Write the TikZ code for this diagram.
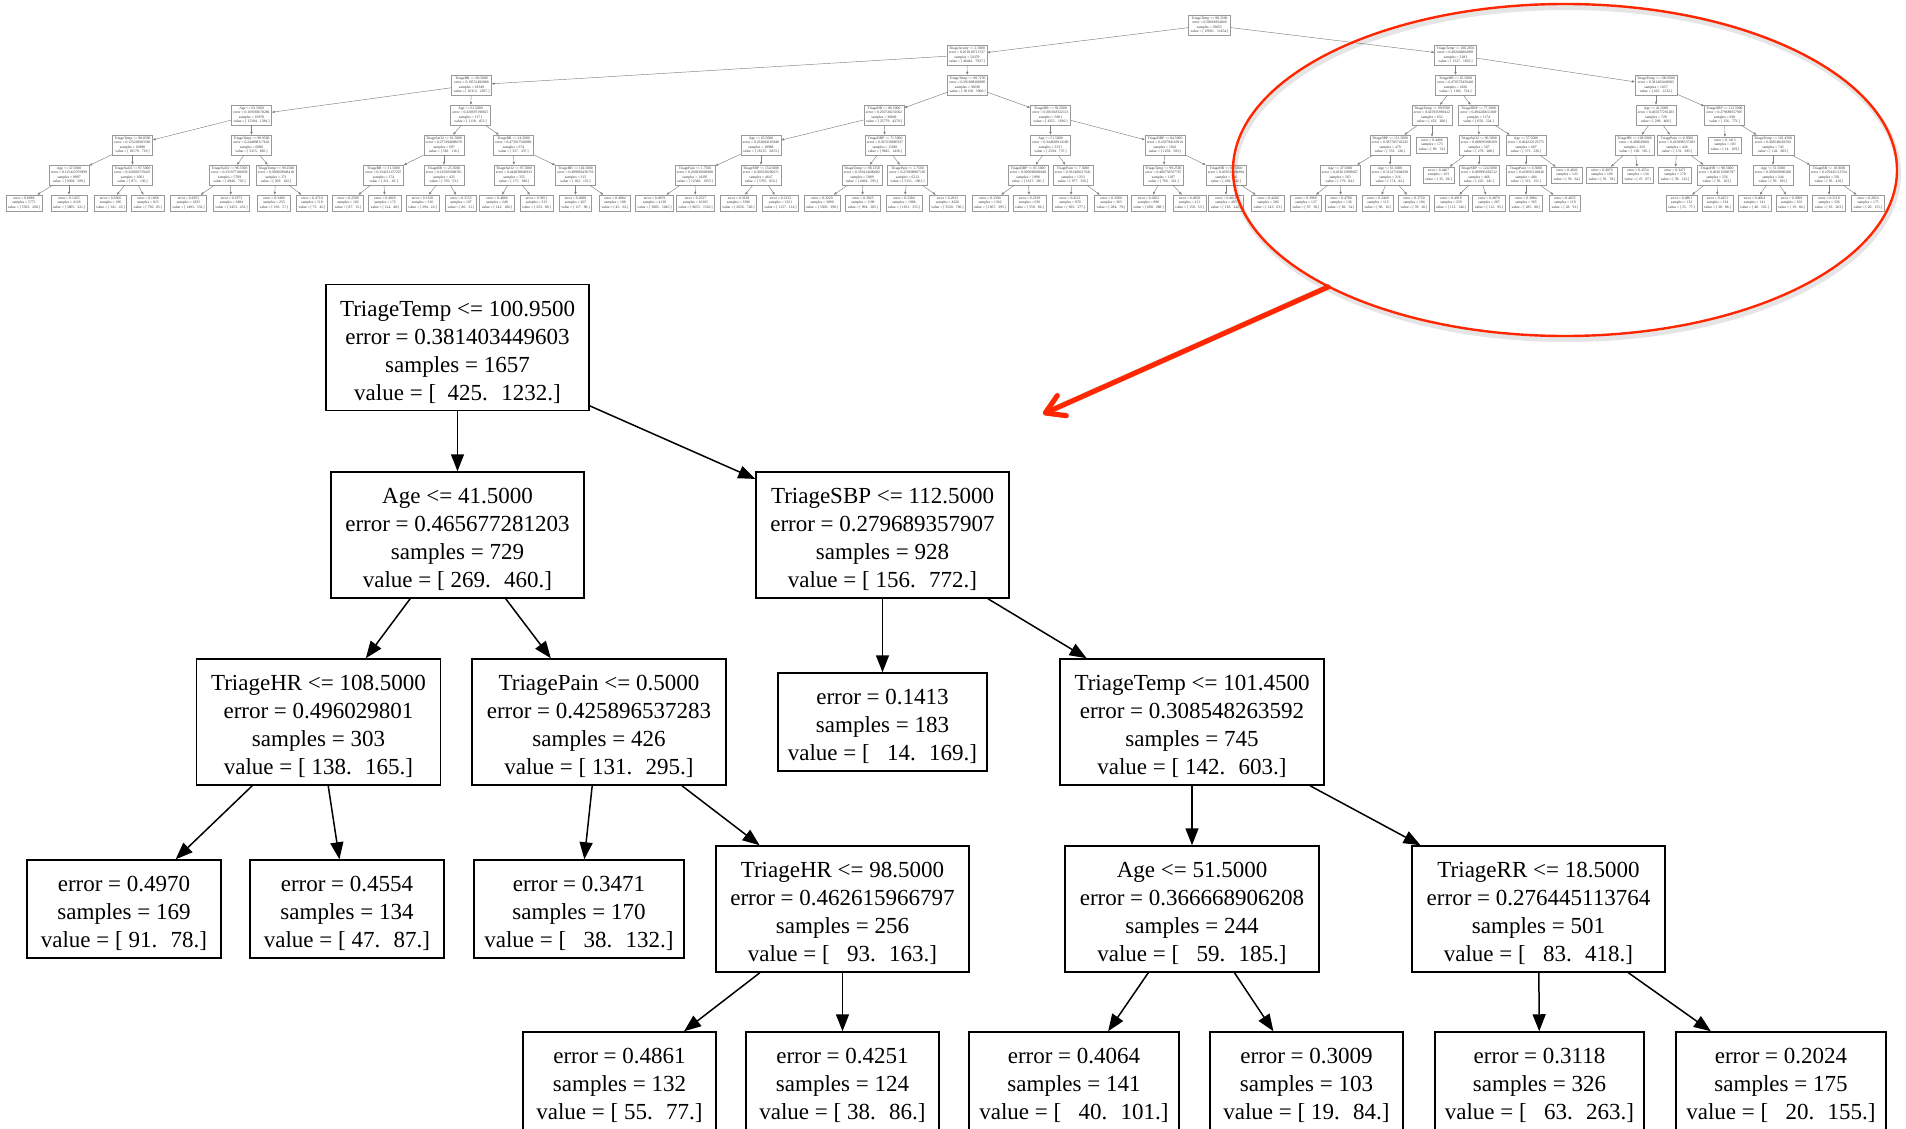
\documentclass[tikz,border=0pt]{standalone}
\usepackage{fontspec}
\setmainfont{Liberation Serif}
\usetikzlibrary{arrows.meta}
\definecolor{markred}{RGB}{255,38,0}
\tikzset{
  bignode/.style={draw=black, line width=1.5pt, fill=white, align=center, inner sep=0pt,
    font=\fontsize{23}{28}\selectfont, minimum height=126pt},
  bigleaf/.style={bignode, minimum height=98pt},
  bigedge/.style={line width=1.5pt, -{Triangle[length=17pt,width=13pt]}},
  tinynode/.style={draw=black!40, line width=0.6pt, fill=white, align=center, inner xsep=2pt,
    inner ysep=0pt, font=\fontsize{3.7}{4.5}\selectfont, text=black!80, minimum height=20pt},
  tinyleaf/.style={tinynode, minimum height=16pt},
  tinyedge/.style={draw=black!50, line width=0.45pt, -{Triangle[length=2.8pt,width=2.2pt]}},
}
% small overview boxes: name, position, four (or three) text lines
\newcommand\mkint[6]{\node[tinynode] (#1) at (#2) {#3\\#4\\#5\\#6};}
\newcommand\mkleaf[5]{\node[tinyleaf] (#1) at (#2) {#3\\#4\\#5};}
% taller first line, so the text block sits a little low in its box
\newcommand\tup{\rule{0pt}{25pt}}

\begin{document}
\begin{tikzpicture}[x=1pt,y=-1pt]
\useasboundingbox (0,0) rectangle (1906,1129);
\fill[white] (0,0) rectangle (1906,1129);

% ---------------- overview of the full tree ----------------
\mkint{R}{1209.5,25}{TriageTemp <= 98.3500}{error = 0.50018854849}{samples = 59055}{value = [ 47601.~ 11454.]}
\mkint{A}{967,55}{TriageAcuity <= 2.5000}{error = 0.261018713727}{samples = 54379}{value = [ 46442.~ 7937.]}
\mkint{B}{1455.5,55}{TriageTemp <= 100.2650}{error = 0.492404864993}{samples = 3183}{value = [ 1527.~ 1656.]}
\mkint{AL}{471.5,85}{TriageRR <= 20.5000}{error = 0.19551492888}{samples = 18349}{value = [ 16312.~ 2037.]}
\mkint{AR}{967.5,85}{TriageTemp <= 98.7250}{error = 0.291808100095}{samples = 36030}{value = [ 30130.~ 5900.]}
\mkint{BL}{1455.5,85}{TriageHR <= 65.5000}{error = 0.470573459426}{samples = 1826}{value = [ 1102.~ 724.]}
\mkint{BR}{1656,85}{TriageTemp <= 100.9500}{error = 0.381403449603}{samples = 1657}{value = [ 425.~ 1232.]}

\mkint{a63}{251.5,115}{Age <= 63.5000}{error = 0.169383678286}{samples = 16978}{value = [ 15394.~ 1584.]}
\mkint{a61}{470.5,115}{Age <= 61.5000}{error = 0.430697190615}{samples = 1371}{value = [ 1118.~ 453.]}
\mkint{rr86}{884,115}{TriageHR <= 86.5000}{error = 0.250720231062}{samples = 30049}{value = [ 25779.~ 4270.]}
\mkint{hr92}{1050.5,115}{TriageHR <= 92.5000}{error = 0.381018322113}{samples = 5981}{value = [ 4351.~ 1630.]}
\mkint{t99}{1432,115}{TriageTemp <= 99.9500}{error = 0.425935969412}{samples = 652}{value = [ 452.~ 200.]}
\mkint{dbp77}{1478.5,115}{TriageDBP <= 77.5000}{error = 0.494240651049}{samples = 1174}{value = [ 650.~ 524.]}
\mkint{sAge41}{1656,115}{Age <= 41.5000}{error = 0.465677281203}{samples = 729}{value = [ 269.~ 460.]}
\mkint{sSbp}{1724.5,115}{TriageSBP <= 112.5000}{error = 0.279689357907}{samples = 928}{value = [ 156.~ 772.]}

\mkint{t9885}{132.5,145}{TriageTemp <= 98.8500}{error = 0.125249303569}{samples = 10898}{value = [ 10179.~ 719.]}
\mkint{t9895}{251.5,145}{TriageTemp <= 98.9500}{error = 0.244898117642}{samples = 6080}{value = [ 5215.~ 865.]}
\mkint{sa915}{444,145}{TriageSaO2 <= 91.5000}{error = 0.277494808670}{samples = 697}{value = [ 581.~ 116.]}
\mkint{rr245}{513.5,145}{TriageRR <= 24.5000}{error = 0.473917568082}{samples = 674}{value = [ 337.~ 337.]}
\mkint{age655}{761,145}{Age <= 65.5000}{error = 0.232084165848}{samples = 18968}{value = [ 16135.~ 2833.]}
\mkint{dbp715}{885,145}{TriageDBP <= 71.5000}{error = 0.307250885937}{samples = 11081}{value = [ 9645.~ 1436.]}
\mkint{age515}{1050.5,145}{Age <= 51.5000}{error = 0.344602914160}{samples = 3331}{value = [ 2594.~ 737.]}
\mkint{dbp845}{1165,145}{TriageDBP <= 84.5000}{error = 0.432794116914}{samples = 1841}{value = [ 1258.~ 583.]}
\mkint{sbp1515}{1390,145}{TriageSBP <= 151.5000}{error = 0.387785743222}{samples = 479}{value = [ 353.~ 126.]}
\mkleaf{leaf4a}{1432,145}{error = 0.4406}{samples = 173}{value = [ 99.~ 74.]}
\mkint{sa965}{1479,145}{TriageSaO2 <= 96.5000}{error = 0.498695906269}{samples = 567}{value = [ 279.~ 288.]}
\mkint{age575}{1526,145}{Age <= 57.5000}{error = 0.464232125575}{samples = 607}{value = [ 371.~ 236.]}
\mkint{sHr108}{1634.5,145}{TriageHR <= 108.5000}{error = 0.496029801}{samples = 303}{value = [ 138.~ 165.]}
\mkint{sPain}{1677,145}{TriagePain <= 0.5000}{error = 0.425896537283}{samples = 426}{value = [ 131.~ 295.]}
\mkleaf{sL1413}{1725,145}{error = 0.1413}{samples = 183}{value = [ 14.~ 169.]}
\mkint{sTt101}{1773,145}{TriageTemp <= 101.4500}{error = 0.308548263592}{samples = 745}{value = [ 142.~ 603.]}

\mkint{a475}{69,175}{Age <= 47.5000}{error = 0.115422376999}{samples = 9897}{value = [ 9308.~ 589.]}
\mkint{sa975}{132.5,175}{TriageSaO2 <= 97.5000}{error = 0.226003759425}{samples = 1001}{value = [ 871.~ 130.]}
\mkint{sa9655}{229.5,175}{TriageSaO2 <= 96.5500}{error = 0.231977106839}{samples = 5709}{value = [ 4946.~ 763.]}
\mkint{t9925}{276,175}{TriageTemp <= 99.2500}{error = 0.396669948418}{samples = 371}{value = [ 269.~ 102.]}
\mkint{rr315}{383.5,175}{TriageRR <= 31.5000}{error = 0.334212157227}{samples = 274}{value = [ 211.~ 63.]}
\mkint{rr255}{444,175}{TriageRR <= 25.5000}{error = 0.219305068761}{samples = 423}{value = [ 370.~ 53.]}
\mkint{sa975b}{514,175}{TriageSaO2 <= 97.5000}{error = 0.444830606913}{samples = 355}{value = [ 175.~ 180.]}
\mkint{hr1025}{575.5,175}{TriageHR <= 102.5000}{error = 0.499963436719}{samples = 315}{value = [ 162.~ 153.]}
\mkint{pain175}{695,175}{TriagePain <= 1.7500}{error = 0.236036068908}{samples = 14295}{value = [ 12340.~ 1955.]}
\mkint{sbp1545}{761,175}{TriageSBP <= 154.5000}{error = 0.300320206671}{samples = 4647}{value = [ 3795.~ 852.]}
\mkint{t98135}{862,175}{TriageTemp <= 98.1350}{error = 0.339414400002}{samples = 5089}{value = [ 4494.~ 595.]}
\mkint{pain175b}{907.5,175}{TriagePain <= 1.7500}{error = 0.276699967105}{samples = 6212}{value = [ 5151.~ 1061.]}
\mkint{dbp815}{1028,175}{TriageDBP <= 81.5000}{error = 0.306698902849}{samples = 1998}{value = [ 1617.~ 381.]}
\mkint{pain75}{1073,175}{TriagePain <= 7.5000}{error = 0.391468217641}{samples = 1333}{value = [ 977.~ 356.]}
\mkint{t9925b}{1163.5,175}{TriageTemp <= 99.2500}{error = 0.406758767767}{samples = 1107}{value = [ 766.~ 341.]}
\mkint{hr885}{1226,175}{TriageHR <= 88.5000}{error = 0.459521094894}{samples = 734}{value = [ 492.~ 242.]}
\mkint{age475b}{1340,175}{Age <= 47.5000}{error = 0.432613969667}{samples = 263}{value = [ 179.~ 84.]}
\mkint{age615b}{1390,175}{Age <= 61.5000}{error = 0.313271604938}{samples = 216}{value = [ 174.~ 42.]}
\mkleaf{leaf5a}{1438.5,175}{error = 0.4467}{samples = 101}{value = [ 35.~ 66.]}
\mkint{sbp1245}{1479,175}{TriageSBP <= 124.5000}{error = 0.499991662512}{samples = 466}{value = [ 225.~ 241.]}
\mkint{pain05b}{1526,175}{TriagePain <= 0.5000}{error = 0.419691102846}{samples = 484}{value = [ 313.~ 151.]}
\mkleaf{leaf5b}{1567,175}{error = 0.4602}{samples = 123}{value = [ 59.~ 64.]}
\mkleaf{sL4970}{1602,175}{error = 0.4970}{samples = 169}{value = [ 91.~ 78.]}
\mkleaf{sL4554}{1638,175}{error = 0.4554}{samples = 134}{value = [ 47.~ 87.]}
\mkleaf{sL3471}{1675,175}{error = 0.3471}{samples = 170}{value = [ 38.~ 132.]}
\mkint{sHr98}{1717,175}{TriageHR <= 98.5000}{error = 0.462615966797}{samples = 256}{value = [ 93.~ 163.]}
\mkint{sAge51}{1773,175}{Age <= 51.5000}{error = 0.366668906208}{samples = 244}{value = [ 59.~ 185.]}
\mkint{sRr18}{1829,175}{TriageRR <= 18.5000}{error = 0.276445113764}{samples = 501}{value = [ 83.~ 418.]}

\mkleaf{lf1}{24,203}{error = 0.0886}{samples = 5771}{value = [ 5503.~ 268.]}
\mkleaf{lf2}{69,203}{error = 0.1435}{samples = 4126}{value = [ 3805.~ 321.]}
\mkleaf{lf3}{110.5,203}{error = 0.3666}{samples = 186}{value = [ 141.~ 45.]}
\mkleaf{lf4}{148,203}{error = 0.1868}{samples = 815}{value = [ 730.~ 85.]}
\mkleaf{lf5}{188.5,203}{error = 0.2955}{samples = 1825}{value = [ 1493.~ 332.]}
\mkleaf{lf6}{231.5,203}{error = 0.1973}{samples = 3884}{value = [ 3453.~ 431.]}
\mkleaf{lf7}{274,203}{error = 0.3400}{samples = 253}{value = [ 196.~ 57.]}
\mkleaf{lf8}{312,203}{error = 0.4710}{samples = 118}{value = [ 73.~ 45.]}
\mkleaf{lf9}{348,203}{error = 0.2589}{samples = 102}{value = [ 87.~ 15.]}
\mkleaf{lf10}{385,203}{error = 0.4026}{samples = 172}{value = [ 124.~ 48.]}
\mkleaf{lf11}{422.5,203}{error = 0.1320}{samples = 316}{value = [ 294.~ 22.]}
\mkleaf{lf12}{461,203}{error = 0.3155}{samples = 107}{value = [ 86.~ 21.]}
\mkleaf{lf13}{497,203}{error = 0.4866}{samples = 248}{value = [ 142.~ 106.]}
\mkleaf{lf14}{536.5,203}{error = 0.3951}{samples = 313}{value = [ 233.~ 80.]}
\mkleaf{lf15}{575.5,203}{error = 0.4688}{samples = 207}{value = [ 117.~ 90.]}
\mkleaf{lf16}{615,203}{error = 0.4884}{samples = 108}{value = [ 45.~ 63.]}
\mkleaf{lf17}{654.5,203}{error = 0.4959}{samples = 4130}{value = [ 3085.~ 1045.]}
\mkleaf{lf18}{695.5,203}{error = 0.2527}{samples = 10165}{value = [ 8655.~ 1510.]}
\mkleaf{lf19}{738.5,203}{error = 0.3238}{samples = 3396}{value = [ 2656.~ 740.]}
\mkleaf{lf20}{780.5,203}{error = 0.2132}{samples = 1251}{value = [ 1137.~ 114.]}
\mkleaf{lf21}{822,203}{error = 0.3229}{samples = 3890}{value = [ 3500.~ 390.]}
\mkleaf{lf22}{863,203}{error = 0.3925}{samples = 1199}{value = [ 994.~ 205.]}
\mkleaf{lf23}{904,203}{error = 0.2384}{samples = 1986}{value = [ 1631.~ 355.]}
\mkleaf{lf24}{947.5,203}{error = 0.2912}{samples = 4226}{value = [ 3520.~ 706.]}
\mkleaf{lf25}{990,203}{error = 0.3394}{samples = 1362}{value = [ 1067.~ 295.]}
\mkleaf{lf26}{1029.5,203}{error = 0.2339}{samples = 636}{value = [ 550.~ 86.]}
\mkleaf{lf27}{1070,203}{error = 0.4112}{samples = 970}{value = [ 693.~ 277.]}
\mkleaf{lf28}{1111,203}{error = 0.3200}{samples = 363}{value = [ 284.~ 79.]}
\mkleaf{lf29}{1148.5,203}{error = 0.4262}{samples = 896}{value = [ 608.~ 288.]}
\mkleaf{lf30}{1189.5,203}{error = 0.4950}{samples = 211}{value = [ 158.~ 53.]}
\mkleaf{lf31}{1226,203}{error = 0.4811}{samples = 405}{value = [ 163.~ 242.]}
\mkleaf{lf32}{1268,203}{error = 0.4246}{samples = 206}{value = [ 143.~ 63.]}
\mkleaf{lf33}{1306,203}{error = 0.3968}{samples = 127}{value = [ 97.~ 30.]}
\mkleaf{lf34}{1341,203}{error = 0.4780}{samples = 136}{value = [ 82.~ 54.]}
\mkleaf{lf35}{1378,203}{error = 0.2449}{samples = 112}{value = [ 96.~ 16.]}
\mkleaf{lf36}{1414,203}{error = 0.3750}{samples = 104}{value = [ 78.~ 26.]}
\mkleaf{lf37}{1451,203}{error = 0.4918}{samples = 259}{value = [ 113.~ 146.]}
\mkleaf{lf38}{1489,203}{error = 0.4879}{samples = 207}{value = [ 112.~ 95.]}
\mkleaf{lf39}{1526,203}{error = 0.3984}{samples = 365}{value = [ 285.~ 80.]}
\mkleaf{lf40}{1565,203}{error = 0.4635}{samples = 119}{value = [ 28.~ 91.]}
\mkleaf{sL4861}{1681.5,203}{error = 0.4861}{samples = 132}{value = [ 55.~ 77.]}
\mkleaf{sL4251}{1717.5,203}{error = 0.4251}{samples = 124}{value = [ 38.~ 86.]}
\mkleaf{sL4064}{1754.5,203}{error = 0.4064}{samples = 141}{value = [ 40.~ 101.]}
\mkleaf{sL3009}{1791.5,203}{error = 0.3009}{samples = 103}{value = [ 19.~ 84.]}
\mkleaf{sL3118}{1829,203}{error = 0.3118}{samples = 326}{value = [ 63.~ 263.]}
\mkleaf{sL2024}{1868,203}{error = 0.2024}{samples = 175}{value = [ 20.~ 155.]}

\foreach \p/\c in {R/A, R/B, A/AL, A/AR, B/BL, B/BR,
  AL/a63, AL/a61, AR/rr86, AR/hr92, BL/t99, BL/dbp77, BR/sAge41, BR/sSbp,
  a63/t9885, a63/t9895, a61/sa915, a61/rr245, rr86/age655, rr86/dbp715,
  hr92/age515, hr92/dbp845, t99/sbp1515, t99/leaf4a, dbp77/sa965, dbp77/age575,
  sAge41/sHr108, sAge41/sPain, sSbp/sL1413, sSbp/sTt101,
  t9885/a475, t9885/sa975, t9895/sa9655, t9895/t9925, sa915/rr315, sa915/rr255,
  rr245/sa975b, rr245/hr1025, age655/pain175, age655/sbp1545, dbp715/t98135,
  dbp715/pain175b, age515/dbp815, age515/pain75, dbp845/t9925b, dbp845/hr885,
  sbp1515/age475b, sbp1515/age615b, sa965/leaf5a, sa965/sbp1245,
  age575/pain05b, age575/leaf5b, sHr108/sL4970, sHr108/sL4554,
  sPain/sL3471, sPain/sHr98, sTt101/sAge51, sTt101/sRr18,
  a475/lf1, a475/lf2, sa975/lf3, sa975/lf4, sa9655/lf5, sa9655/lf6,
  t9925/lf7, t9925/lf8, rr315/lf9, rr315/lf10, rr255/lf11, rr255/lf12,
  sa975b/lf13, sa975b/lf14, hr1025/lf15, hr1025/lf16, pain175/lf17, pain175/lf18,
  sbp1545/lf19, sbp1545/lf20, t98135/lf21, t98135/lf22, pain175b/lf23, pain175b/lf24,
  dbp815/lf25, dbp815/lf26, pain75/lf27, pain75/lf28, t9925b/lf29, t9925b/lf30,
  hr885/lf31, hr885/lf32, age475b/lf33, age475b/lf34, age615b/lf35, age615b/lf36,
  sbp1245/lf37, sbp1245/lf38, pain05b/lf39, pain05b/lf40,
  sHr98/sL4861, sHr98/sL4251, sAge51/sL4064, sAge51/sL3009, sRr18/sL3118, sRr18/sL2024}
  \draw[tinyedge] (\p) -- (\c);

% ---------------- enlarged subtree ----------------
\node[bignode, minimum width=263pt] (root) at (457.5,347.5)
  {\tup TriageTemp <= 100.9500\\error = 0.381403449603\\samples = 1657\\value = [~ 425.~ 1232.]};
\node[bignode, minimum width=253pt] (age41) at (457.5,535)
  {\tup Age <= 41.5000\\error = 0.465677281203\\samples = 729\\value = [ 269.~ 460.]};
\node[bignode, minimum width=253pt] (sbp) at (882.5,535)
  {\tup TriageSBP <= 112.5000\\error = 0.279689357907\\samples = 928\\value = [ 156.~ 772.]};
\node[bignode, minimum width=244pt] (hr108) at (318.5,722)
  {\tup TriageHR <= 108.5000\\error = 0.496029801\\samples = 303\\value = [ 138.~ 165.]};
\node[bignode, minimum width=254pt] (pain05) at (599,722)
  {\tup TriagePain <= 0.5000\\error = 0.425896537283\\samples = 426\\value = [ 131.~ 295.]};
\node[bigleaf, minimum width=209pt] (l1413) at (882.5,722)
  {\tup error = 0.1413\\samples = 183\\value = [~~ 14.~ 169.]};
\node[bignode, minimum width=264pt] (tt101) at (1192,722)
  {\tup TriageTemp <= 101.4500\\error = 0.308548263592\\samples = 745\\value = [ 142.~ 603.]};
\node[bigleaf, minimum width=194pt] (l4970) at (124,909)
  {\tup error = 0.4970\\samples = 169\\value = [ 91.~ 78.]};
\node[bigleaf, minimum width=194pt] (l4554) at (347,909)
  {\tup error = 0.4554\\samples = 134\\value = [ 47.~ 87.]};
\node[bigleaf, minimum width=210pt] (l3471) at (579,909)
  {\tup error = 0.3471\\samples = 170\\value = [~~ 38.~ 132.]};
\node[bignode, minimum width=253pt] (hr98) at (842.5,909)
  {\tup TriageHR <= 98.5000\\error = 0.462615966797\\samples = 256\\value = [~~ 93.~ 163.]};
\node[bignode, minimum width=254pt] (age51) at (1192,909)
  {\tup Age <= 51.5000\\error = 0.366668906208\\samples = 244\\value = [~~ 59.~ 185.]};
\node[bignode, minimum width=253pt] (rr18) at (1538.5,909)
  {\tup TriageRR <= 18.5000\\error = 0.276445113764\\samples = 501\\value = [~~ 83.~ 418.]};
\node[bigleaf, minimum width=193pt] (l4861) at (619.5,1081)
  {\tup error = 0.4861\\samples = 132\\value = [ 55.~ 77.]};
\node[bigleaf, minimum width=193pt] (l4251) at (842.5,1081)
  {\tup error = 0.4251\\samples = 124\\value = [ 38.~ 86.]};
\node[bigleaf, minimum width=210pt] (l4064) at (1074,1081)
  {\tup error = 0.4064\\samples = 141\\value = [~~ 40.~ 101.]};
\node[bigleaf, minimum width=193pt] (l3009) at (1306.5,1081)
  {\tup error = 0.3009\\samples = 103\\value = [ 19.~ 84.]};
\node[bigleaf, minimum width=209pt] (l3118) at (1539.5,1081)
  {\tup error = 0.3118\\samples = 326\\value = [~~ 63.~ 263.]};
\node[bigleaf, minimum width=210pt] (l2024) at (1781,1081)
  {\tup error = 0.2024\\samples = 175\\value = [~~ 20.~ 155.]};

\foreach \p/\c in {root/age41, root/sbp, age41/hr108, age41/pain05, sbp/l1413, sbp/tt101,
  hr108/l4970, hr108/l4554, pain05/l3471, pain05/hr98, tt101/age51, tt101/rr18,
  hr98/l4861, hr98/l4251, age51/l4064, age51/l3009, rr18/l3118, rr18/l2024}
  \draw[bigedge] (\p) -- (\c);

% ---------------- red highlight and pointer ----------------
\draw[black, opacity=0.10, line width=5pt] (1566.5,173.5) ellipse [x radius=332pt, y radius=166pt];
\draw[markred, line width=2.4pt] (1565,170) ellipse [x radius=332pt, y radius=166pt];
\coordinate (zoomfrom) at (1328,287);
\coordinate (zoomto) at (1043,414);
\begin{scope}[shift={(2,4)}]
  \draw[black, opacity=0.12, line width=6pt, line cap=round,
    -{Straight Barb[length=18pt,width=22pt,round]}] (zoomfrom) -- (zoomto);
\end{scope}
\draw[markred, line width=5pt, line cap=round,
  -{Straight Barb[length=18pt,width=22pt,round]}] (zoomfrom) -- (zoomto);
\end{tikzpicture}
\end{document}
